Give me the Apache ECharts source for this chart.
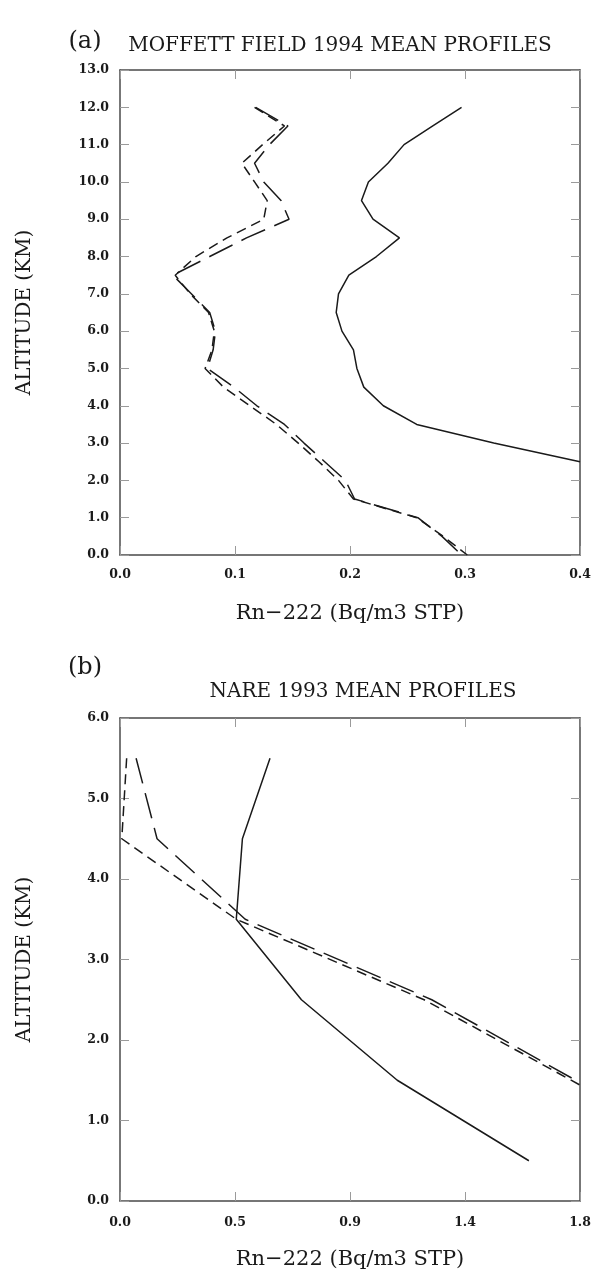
<!DOCTYPE html>
<html>
<head>
<meta charset="utf-8">
<script src="https://cdn.jsdelivr.net/npm/echarts@6/dist/echarts.min.js"></script>
<style>
  html, body { margin: 0; padding: 0; background: #fff; }
  #main { width: 596px; height: 1275px; }
</style>
</head>
<body>
<div id="main"></div>
<script>
// (a) Moffett Field 1994, altitude in km
const altA = [12.0, 11.5, 11.0, 10.5, 10.0, 9.5, 9.0, 8.5, 8.0, 7.5, 7.0, 6.5, 6.0, 5.5, 5.0, 4.5, 4.0, 3.5, 3.0, 2.5, 2.0, 1.5, 1.0, 0.5, 0.0]
const altASolid = [12.0, 11.5, 11.0, 10.5, 10.0, 9.5, 9.0, 8.5, 8.0, 7.5, 7.0, 6.5, 6.0, 5.5, 5.0, 4.5, 4.0, 3.5, 3.0, 2.5]
const solidA = [0.297, 0.272, 0.247, 0.233, 0.216, 0.210, 0.220, 0.243, 0.223, 0.199, 0.190, 0.188, 0.193, 0.203, 0.206, 0.212, 0.229, 0.258, 0.325, 0.400]
const longA = [0.118, 0.146, 0.130, 0.117, 0.125, 0.140, 0.147, 0.110, 0.078, 0.046, 0.062, 0.078, 0.083, 0.081, 0.076, 0.099, 0.119, 0.143, 0.160, 0.178, 0.196, 0.204, 0.259, 0.280, 0.297]
const shortA = [0.117, 0.143, 0.124, 0.106, 0.117, 0.128, 0.125, 0.093, 0.066, 0.048, 0.061, 0.077, 0.082, 0.080, 0.074, 0.090, 0.113, 0.136, 0.155, 0.173, 0.190, 0.203, 0.258, 0.281, 0.302]

// (b) NARE 1993
const altBSolid = [5.5, 4.5, 3.5, 2.5, 1.5, 0.5]
const solidB = [0.587, 0.479, 0.455, 0.71, 1.085, 1.60]
const altBLong = [5.5, 4.5, 3.5, 2.5, 1.47]
const longB = [0.063, 0.145, 0.49, 1.22, 1.8]
const altBShort = [5.5, 4.5, 3.5, 2.5, 1.44]
const shortB = [0.026, 0.007, 0.455, 1.19, 1.8]

// tick labels of the lower x axis (0.45 steps, printed with one decimal)
const xLabelsB = ['0.0', '0.5', '0.9', '1.4', '1.8']

const xTitle = 'Rn\u2212222 (Bq/m3 STP)'
const yTitle = 'ALTITUDE (KM)'

const serif = 'DejaVu Serif'
const ink = '#1a1a1a'

function pairs(xs, ys) {
  return xs.map((v, i) => [v, ys[i]])
}

function lineSeries(data, dash, xi, yi) {
  return {
    type: 'line',
    xAxisIndex: xi,
    yAxisIndex: yi,
    data,
    symbol: 'none',
    clip: true,
    silent: true,
    lineStyle: { color: ink, width: 1.5, type: dash },
  }
}

// every side of the box is drawn by its own axis
const frameLine = { show: true, onZero: false, lineStyle: { color: '#4a4a4a', width: 1.5 } }
const innerTick = { show: true, inside: true, length: 9, lineStyle: { color: '#9a9a9a', width: 1 } }
const tickFont = { fontFamily: serif, fontWeight: 'bold', fontSize: 12.5, color: ink }
const nameFont = { fontFamily: serif, fontSize: 20, color: ink }

function xAxisPair(grid, max, interval, formatter, margin) {
  return [
    {
      gridIndex: grid, type: 'value', position: 'bottom', min: 0, max, interval,
      axisLine: frameLine, axisTick: innerTick, splitLine: { show: false },
      axisLabel: { ...tickFont, margin, formatter },
      name: xTitle, nameLocation: 'middle', nameGap: 48,
      nameTextStyle: { ...nameFont, fontSize: 21 },
    },
    {
      gridIndex: grid, type: 'value', position: 'top', min: 0, max, interval,
      axisLine: frameLine, axisTick: innerTick, splitLine: { show: false },
      axisLabel: { show: false },
    },
  ]
}

function yAxisPair(grid, max) {
  return [
    {
      gridIndex: grid, type: 'value', position: 'left', min: 0, max, interval: 1,
      axisLine: frameLine, axisTick: innerTick, splitLine: { show: false },
      axisLabel: { ...tickFont, margin: 11, formatter: v => v.toFixed(1) },
      name: yTitle, nameLocation: 'middle', nameRotate: 90, nameGap: 85,
      nameTextStyle: nameFont,
    },
    {
      gridIndex: grid, type: 'value', position: 'right', min: 0, max, interval: 1,
      axisLine: frameLine, axisTick: innerTick, splitLine: { show: false },
      axisLabel: { show: false },
    },
  ]
}

const chart = echarts.init(document.getElementById('main'), null, { renderer: 'canvas' })

chart.setOption({
  animation: false,
  backgroundColor: '#fff',
  grid: [
    { left: 120, top: 70, width: 460, height: 485 },
    { left: 120, top: 718, width: 460, height: 483 },
  ],
  xAxis: [
    ...xAxisPair(0, 0.4, 0.1, v => v.toFixed(1), 13),
    ...xAxisPair(1, 1.8, 0.45, v => xLabelsB[Math.round(v / 0.45)], 15),
  ],
  yAxis: [
    ...yAxisPair(0, 13),
    ...yAxisPair(1, 6),
  ],
  graphic: [
    { type: 'text', x: 85, y: 42, style: { text: '(a)', font: '24px ' + serif, fill: ink, textAlign: 'center', textVerticalAlign: 'middle' } },
    { type: 'text', x: 340, y: 46, style: { text: 'MOFFETT FIELD 1994 MEAN PROFILES', font: '20px ' + serif, fill: ink, textAlign: 'center', textVerticalAlign: 'middle' } },
    { type: 'text', x: 85, y: 668, style: { text: '(b)', font: '24px ' + serif, fill: ink, textAlign: 'center', textVerticalAlign: 'middle' } },
    { type: 'text', x: 363, y: 692, style: { text: 'NARE 1993 MEAN PROFILES', font: '20px ' + serif, fill: ink, textAlign: 'center', textVerticalAlign: 'middle' } },
  ],
  series: [
    lineSeries(pairs(solidA, altASolid), 'solid', 0, 0),
    lineSeries(pairs(longA, altA), [26, 10], 0, 0),
    lineSeries(pairs(shortA, altA), [10, 6], 0, 0),
    lineSeries(pairs(solidB, altBSolid), 'solid', 2, 2),
    lineSeries(pairs(longB, altBLong), [26, 10], 2, 2),
    lineSeries(pairs(shortB, altBShort), [10, 6], 2, 2),
  ],
})
</script>
</body>
</html>
